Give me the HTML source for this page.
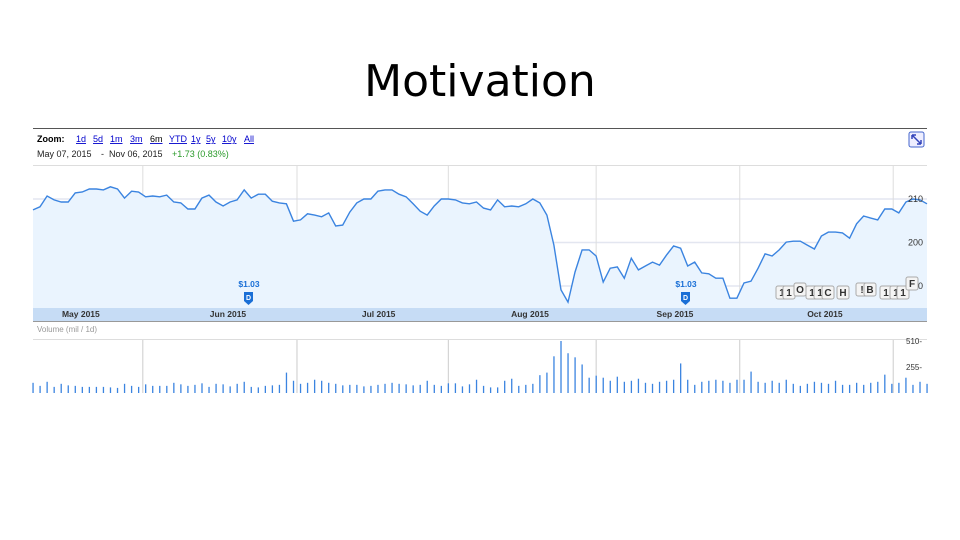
<!DOCTYPE html>
<html><head><meta charset="utf-8"><style>
body{margin:0;width:960px;height:540px;background:#fff;overflow:hidden;font-family:"Liberation Sans",sans-serif;}
#title{position:absolute;left:0;top:56px;width:960px;text-align:center;font-family:"DejaVu Sans",sans-serif;font-size:44px;color:#000;}
svg{position:absolute;left:0;top:0;}
</style></head><body>
<div id="title">Motivation</div>
<svg width="960" height="540" id="chart">
  <line x1="33" y1="128.5" x2="927" y2="128.5" stroke="#555" stroke-width="1"/>
  <text x="37" y="142" font-size="9" font-weight="bold" fill="#000">Zoom:</text>
  <g font-size="9" fill="#00c" text-decoration="underline">
    <text x="76" y="142">1d</text>
    <text x="93" y="142">5d</text>
    <text x="110" y="142">1m</text>
    <text x="130" y="142">3m</text>
    <text x="150" y="142" fill="#000" text-decoration="none">6m</text>
    <text x="169" y="142">YTD</text>
    <text x="191" y="142">1y</text>
    <text x="206" y="142">5y</text>
    <text x="222" y="142">10y</text>
    <text x="244" y="142">All</text>
  </g>
  <text x="37" y="157" font-size="9" fill="#222">May 07, 2015</text>
  <text x="101" y="157" font-size="9" fill="#222">-</text>
  <text x="109" y="157" font-size="9" fill="#222">Nov 06, 2015</text>
  <text x="172" y="157" font-size="9" fill="#2a9a2a">+1.73 (0.83%)</text>
  <rect x="909" y="132" width="15" height="15" rx="2" fill="#eef" stroke="#46c"/>
  <path d="M912 135 L921 144 M912 135 l4 0 M912 135 l0 4 M921 144 l-4 0 M921 144 l0 -4" stroke="#34b" stroke-width="1.5" fill="none"/>
  <line x1="33" y1="165.5" x2="927" y2="165.5" stroke="#ddd"/>
  <g id="grid"></g>
  <path id="area" fill="#eaf4fe"/>
  <path id="line" fill="none" stroke="#3b84e0" stroke-width="1.4"/>
  <g id="ylabels"></g>
  <rect x="33" y="308" width="894" height="13" fill="#c6dcf5"/>
  <line x1="33" y1="321.5" x2="927" y2="321.5" stroke="#999"/>
  <g id="xlabels"></g>
  <g>
    <text x="249" y="287" font-size="8.5" font-weight="bold" fill="#1a6fd6" text-anchor="middle">$1.03</text>
    <path d="M244 292 h9 v9 l-4.5 4 l-4.5 -4 z" fill="#1a6fd6"/>
    <text x="248.5" y="300" font-size="7" fill="#fff" font-weight="bold" text-anchor="middle">D</text>
  </g>
  <g>
    <text x="686" y="287" font-size="8.5" font-weight="bold" fill="#1a6fd6" text-anchor="middle">$1.03</text>
    <path d="M681 292 h9 v9 l-4.5 4 l-4.5 -4 z" fill="#1a6fd6"/>
    <text x="685.5" y="300" font-size="7" fill="#fff" font-weight="bold" text-anchor="middle">D</text>
  </g>
  <g id="news"></g>
  <text x="37" y="332" font-size="8" fill="#999">Volume (mil / 1d)</text>
  <line x1="33" y1="339.5" x2="927" y2="339.5" stroke="#ddd"/>
  <g id="vgrid"></g>
  <g id="vbars"></g>
  <g id="vlabels"></g>
</svg>
<script>
const prices=[207.5,208.2,210.7,209.8,209.3,209.3,211.4,211.6,212.3,212.3,212.1,212.8,212.3,210.2,211.8,211.6,210.5,210.7,210.5,210.9,209.3,209.1,207.7,207.7,210.2,210.9,209.3,208.4,209.3,209.8,212.1,210.2,211.1,211.1,209.5,209.1,208.9,204.9,205.2,206.6,206.3,205.9,206.8,203.8,204.0,207.0,209.1,210.0,210.0,211.8,212.1,212.1,211.1,210.5,208.9,207.2,206.3,208.4,210.0,210.0,209.8,209.1,208.9,209.3,207.9,207.5,209.8,208.2,208.4,208.2,208.9,210.0,209.1,206.3,199.4,189.1,186.3,193.2,198.3,198.3,196.9,190.9,194.1,194.4,191.8,196.4,193.7,194.6,195.5,194.8,197.1,199.2,198.7,194.6,195.5,193.0,192.8,191.8,191.8,187.2,187.2,190.7,191.1,194.1,197.4,196.9,198.3,200.1,200.3,200.3,199.4,198.5,201.5,202.4,202.4,202.2,201.0,204.3,206.1,205.6,205.2,207.7,207.7,206.8,209.3,210.0,209.8,208.9];
const volumes=[100,70,110,60,90,75,70,60,60,60,60,55,50,90,70,60,85,70,70,70,100,85,70,80,95,60,90,85,65,90,110,60,55,70,75,80,200,120,90,100,130,120,100,90,75,80,80,65,70,80,90,100,90,85,75,80,120,80,70,95,95,65,85,130,70,55,55,120,140,70,80,90,175,200,360,510,390,350,280,150,170,150,120,160,110,120,140,100,90,110,120,130,290,130,80,110,120,130,120,100,130,130,210,110,100,120,100,130,90,70,90,110,100,90,120,80,80,100,80,100,110,180,90,100,150,80,110,90];
const months=["May 2015","Jun 2015","Jul 2015","Aug 2015","Sep 2015","Oct 2015"];
const monthIdx=[6.8,27.7,49.1,70.6,91.2,112.5];
const gridIdx=[15.6,37.5,59,80,100.4,122.2];
const yTicks=[210,200,190];
const vTicks=[510,255];
const NS="http://www.w3.org/2000/svg";
const X0=33,X1=927,N=prices.length;
const xs=i=>X0+i*(X1-X0)/(N-1);
const ys=v=>199-(v-210)*4.35;
const vBase=393,vs=v=>vBase-v*52/510;
function mk(t,a,p){const e=document.createElementNS(NS,t);for(const k in a)e.setAttribute(k,a[k]);document.getElementById(p).appendChild(e);return e;}
yTicks.forEach(t=>{const l=mk('line',{x1:X0,x2:X1,y1:ys(t),y2:ys(t),stroke:'#e3e6f0','stroke-width':1.5},'grid');


const tx=mk('text',{x:908,y:ys(t)+3,'font-size':9,fill:'#333'},'ylabels');tx.textContent=t;

});
gridIdx.forEach(i=>{const l=mk('line',{x1:xs(i),x2:xs(i),y1:166,y2:308,stroke:'#ddd'},'grid');


const v=mk('line',{x1:xs(i),x2:xs(i),y1:340,y2:393,stroke:'#ccc'},'vgrid');

});
months.forEach((m,k)=>{const t=mk('text',{x:xs(monthIdx[k]),y:317,'font-size':8.5,'font-weight':'bold',fill:'#333','text-anchor':'middle'},'xlabels');t.textContent=m;

});
let d=prices.map((v,i)=>(i?'L':'M')+xs(i).toFixed(1)+' '+ys(v).toFixed(1)).join(' ');
document.getElementById('line').setAttribute('d',d);
document.getElementById('area').setAttribute('d',d+` L${X1} 308 L${X0} 308 Z`);
volumes.forEach((v,i)=>{const b=mk('rect',{x:xs(i)-0.6,y:vs(v),width:1.3,height:vBase-vs(v),fill:'#3b84e0'},'vbars');

});
vTicks.forEach(t=>{const tx=mk('text',{x:906,y:vs(t)+3,'font-size':8,fill:'#333'},'vlabels');tx.textContent=t+'-';

});
const flags=["1","1","O","1","1","C","H","!","B","1","1","1","F"];
const fx=[776,783,794,806,814,822,837,856,864,880,890,897,906];
flags.forEach((f,k)=>{const y=(f==="O"||f==="!"||f==="B")?283:(f==="F"?277:286);
const r=mk('rect',{x:fx[k],y:y,width:12,height:13,rx:2,fill:'#f4f4f4',stroke:'#aaa'},'news');


const t=mk('text',{x:fx[k]+6,y:y+10,'font-size':10,'font-weight':'bold',fill:'#333','text-anchor':'middle'},'news');t.textContent=f;});
</script>
</body></html>
